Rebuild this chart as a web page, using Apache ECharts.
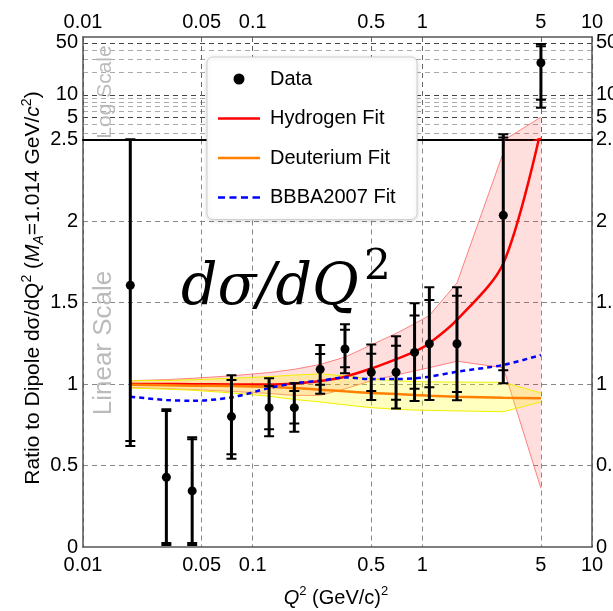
<!DOCTYPE html>
<html><head><meta charset="utf-8">
<script src="https://cdn.jsdelivr.net/npm/echarts@6/dist/echarts.min.js"></script>
<style>html,body{margin:0;padding:0;background:#fff}#c{width:613px;height:611px}</style>
</head><body><div id="c"></div>
<script>
// ---- data ----
const q2      = [0.019, 0.031, 0.044, 0.075, 0.125, 0.176, 0.25, 0.35, 0.5, 0.7, 0.9, 1.1, 1.6, 3.0, 5.0];
const ratio   = [1.606, 0.428, 0.344, 0.800, 0.855, 0.855, 1.090, 1.215, 1.072, 1.072, 1.194, 1.247, 1.247, 2.035, 27.0];
const statHi  = [2.50, 0.834, 0.661, 1.025, 0.988, 0.957, 1.184, 1.333, 1.186, 1.235, 1.421, 1.515, 1.542, 2.67, 45.0];
const totHi   = [2.50, 0.845, 0.673, 1.053, 1.035, 1.004, 1.239, 1.366, 1.243, 1.293, 1.495, 1.593, 1.593, 2.95, 48.4];
const statLo  = [0.650, 0.025, 0.025, 0.569, 0.722, 0.757, 0.996, 1.102, 0.957, 0.904, 0.971, 0.980, 0.951, 1.084, 8.6];
const totLo   = [0.620, 0.012, 0.012, 0.542, 0.679, 0.707, 0.940, 1.066, 0.902, 0.849, 0.896, 0.902, 0.900, 1.004, 6.7];

const hydroFit = [1.000, 1.000, 0.999, 0.997, 0.997, 1.003, 1.018, 1.045, 1.095, 1.152, 1.198, 1.250, 1.393, 1.740, 2.56];
const hydroHi  = [1.020, 1.027, 1.035, 1.050, 1.070, 1.090, 1.120, 1.165, 1.240, 1.310, 1.370, 1.420, 1.620, 2.420, 5.0];
const hydroLo  = [0.978, 0.972, 0.966, 0.955, 0.942, 0.930, 0.930, 0.970, 1.020, 1.055, 1.080, 1.100, 1.140, 1.100, 0.36];
const deutFit  = [0.995, 0.993, 0.990, 0.988, 0.983, 0.975, 0.965, 0.955, 0.945, 0.938, 0.933, 0.928, 0.922, 0.915, 0.912];
const deutHi   = [1.020, 1.022, 1.026, 1.035, 1.045, 1.055, 1.062, 1.050, 1.030, 1.020, 1.015, 1.013, 1.012, 1.010, 0.945];
const deutLo   = [0.975, 0.968, 0.962, 0.945, 0.925, 0.905, 0.890, 0.872, 0.855, 0.845, 0.840, 0.838, 0.835, 0.830, 0.890];
const bbbaFit  = [0.922, 0.902, 0.897, 0.918, 0.975, 1.005, 1.020, 1.040, 1.030, 1.030, 1.035, 1.045, 1.075, 1.117, 1.178];

const xTicks      = [0.01, 0.05, 0.1, 0.5, 1, 5, 10];
const logTicks    = [5, 10, 50];
const logMinor    = [3, 4, 6, 7, 8, 9, 20, 30, 40];
const seriesNames = ['Data', 'Hydrogen Fit', 'Deuterium Fit', 'BBBA2007 Fit'];

// ---- chart ----
const FONT = 'Liberation Sans';
const chart = echarts.init(document.getElementById('c'), null, {renderer: 'canvas'});

const pairs = arr => q2.map((x, i) => [x, arr[i]]);
const errData = q2.map((x, i) => [x, totLo[i], statLo[i], statHi[i], totHi[i]]);

function errorBar(params, api) {
  const x = api.value(0);
  const pts = [1, 2, 3, 4].map(d => api.coord([x, api.value(d)]));
  const px = pts[0][0];
  const cap = 5;
  const children = [{
    type: 'line',
    shape: {x1: px, y1: pts[0][1], x2: px, y2: pts[3][1]},
    style: {stroke: '#000', lineWidth: 3}
  }];
  pts.forEach(p => children.push({
    type: 'line',
    shape: {x1: px - cap, y1: p[1], x2: px + cap, y2: p[1]},
    style: {stroke: '#000', lineWidth: 2}
  }));
  return {type: 'group', children};
}

function bandRenderer(lo, hi, fill, stroke) {
  return function (params, api) {
    if (params.dataIndex !== 0) return null;
    const top = q2.map((x, i) => api.coord([x, hi[i]]));
    const bot = q2.map((x, i) => api.coord([x, lo[i]])).reverse();
    const cs = params.coordSys;
    return {
      type: 'group',
      clipPath: {type: 'rect', shape: {x: cs.x, y: cs.y, width: cs.width, height: cs.height}},
      children: [
        {type: 'polygon', shape: {points: top.concat(bot)}, style: {fill: fill, stroke: 'none'}},
        {type: 'polyline', shape: {points: top}, style: {fill: 'none', stroke: stroke, lineWidth: 1}},
        {type: 'polyline', shape: {points: bot}, style: {fill: 'none', stroke: stroke, lineWidth: 1}}
      ]
    };
  };
}

const frame = {show: true, lineStyle: {color: '#555', width: 1.5}};
const labelStyle = {fontFamily: FONT, fontSize: 20, color: '#000'};
const dashed = c => ({show: true, lineStyle: {color: c, type: [5, 4], width: 1}});

const xAxisBase = (grid, pos, showLabel, split, margin) => ({
  gridIndex: grid, type: 'log', logBase: 10, min: 0.01, max: 10, position: pos,
  axisLine: frame,
  axisTick: {show: false, customValues: xTicks},
  axisLabel: Object.assign({show: showLabel, margin: margin, customValues: xTicks,
    formatter: v => String(v)}, labelStyle),
  splitLine: split
});

const lineIcon = 'path://M0,0h42v2.6h-42z';
const dashIcon = 'path://M0,0h7v2.6h-7zM11.5,0h7v2.6h-7zM23,0h7v2.6h-7zM34.5,0h7.5v2.6h-7.5z';

const option = {
  backgroundColor: '#fff',
  animation: false,
  grid: [
    {left: 83, width: 509, top: 37, height: 102.5, containLabel: false, outerBoundsMode: 'none'},
    {left: 83, width: 509, top: 139.5, height: 407.5, containLabel: false, outerBoundsMode: 'none'}
  ],
  xAxis: [
    xAxisBase(0, 'top', true, dashed('#666'), 5),
    xAxisBase(1, 'bottom', true, dashed('#888'), 8),
    {gridIndex: 0, type: 'log', min: 0.01, max: 10, position: 'bottom',
     axisLine: {show: true, lineStyle: {color: '#000', width: 2}},
     axisTick: {show: false}, axisLabel: {show: false}, splitLine: {show: false}}
  ],
  yAxis: [
    {gridIndex: 0, type: 'log', logBase: 10, min: 2.5, max: 60, position: 'left',
     axisLine: frame, axisTick: {show: false, customValues: logTicks},
     axisLabel: Object.assign({margin: 5, customValues: logTicks, formatter: v => String(v)}, labelStyle),
     splitLine: dashed('#444')},
    {gridIndex: 0, type: 'log', logBase: 10, min: 2.5, max: 60, position: 'right',
     axisLine: frame, axisTick: {show: false, customValues: logTicks},
     axisLabel: Object.assign({margin: 4, customValues: logTicks, formatter: v => String(v)}, labelStyle),
     splitLine: {show: false}},
    {gridIndex: 0, type: 'log', logBase: 10, min: 2.5, max: 60, position: 'left',
     axisLine: {show: false}, axisTick: {show: false, customValues: logMinor},
     axisLabel: {show: false, customValues: logMinor},
     splitLine: dashed('#aaa')},
    {gridIndex: 1, type: 'value', min: 0, max: 2.5, interval: 0.5, position: 'left',
     axisLine: frame, axisTick: {show: false},
     axisLabel: Object.assign({margin: 5}, labelStyle),
     splitLine: {show: true, showMinLine: false, showMaxLine: false, lineStyle: {color: '#888', type: [5, 4], width: 1}}},
    {gridIndex: 1, type: 'value', min: 0, max: 2.5, interval: 0.5, position: 'right',
     axisLine: frame, axisTick: {show: false},
     axisLabel: Object.assign({margin: 4}, labelStyle),
     splitLine: {show: false}}
  ],
  legend: {
    orient: 'vertical', left: 207, top: 57,
    padding: [12, 11, 12, 11],
    itemWidth: 42, itemHeight: 11, itemGap: 19.5,
    backgroundColor: '#fff', borderColor: '#d0d0d0', borderWidth: 1, borderRadius: 6,
    shadowBlur: 4, shadowColor: 'rgba(0,0,0,0.15)', shadowOffsetY: 1,
    textStyle: {fontFamily: FONT, fontSize: 20, color: '#000', lineHeight: 20, width: 136, padding: [0, 0, 0, 5]},
    data: [
      {name: seriesNames[0], icon: 'circle'},
      {name: seriesNames[1], icon: lineIcon},
      {name: seriesNames[2], icon: lineIcon},
      {name: seriesNames[3], icon: dashIcon}
    ]
  },
  series: [
    {type: 'custom', name: 'hband', xAxisIndex: 1, yAxisIndex: 3, clip: true, silent: true, z: 1,
     renderItem: bandRenderer(hydroLo, hydroHi, 'rgba(255,0,0,0.13)', '#ff8080'),
     data: q2.map((x, i) => [x, hydroLo[i], hydroHi[i]])},
    {type: 'custom', name: 'dband', xAxisIndex: 1, yAxisIndex: 3, clip: true, silent: true, z: 1,
     renderItem: bandRenderer(deutLo, deutHi, 'rgba(255,255,0,0.25)', '#f0f000'),
     data: q2.map((x, i) => [x, deutLo[i], deutHi[i]])},
    {type: 'custom', name: 'hband2', xAxisIndex: 0, yAxisIndex: 0, clip: true, silent: true, z: 1,
     renderItem: bandRenderer(hydroLo, hydroHi, 'rgba(255,0,0,0.13)', '#ff8080'),
     data: q2.map((x, i) => [x, hydroLo[i], hydroHi[i]])},

    {type: 'line', name: seriesNames[1], xAxisIndex: 1, yAxisIndex: 3, data: pairs(hydroFit),
     smooth: 0.3, symbol: 'none', clip: true, z: 3, lineStyle: {color: '#ff0000', width: 2.5}, itemStyle: {color: '#ff0000'}},
    {type: 'line', name: seriesNames[1], xAxisIndex: 0, yAxisIndex: 0, data: pairs(hydroFit),
     smooth: 0.3, symbol: 'none', clip: true, z: 3, lineStyle: {color: '#ff0000', width: 2.5}, itemStyle: {color: '#ff0000'}},
    {type: 'line', name: seriesNames[2], xAxisIndex: 1, yAxisIndex: 3, data: pairs(deutFit),
     smooth: 0.3, symbol: 'none', clip: true, z: 3, lineStyle: {color: '#ff8000', width: 2.5}, itemStyle: {color: '#ff8000'}},
    {type: 'line', name: seriesNames[3], xAxisIndex: 1, yAxisIndex: 3, data: pairs(bbbaFit),
     smooth: 0.3, symbol: 'none', clip: true, z: 3, lineStyle: {color: '#0000ff', width: 2.5, type: [5, 4]}, itemStyle: {color: '#0000ff'}},

    {type: 'custom', name: 'err', xAxisIndex: 1, yAxisIndex: 3, clip: true, z: 4,
     renderItem: errorBar, encode: {x: 0, y: [1, 2, 3, 4]}, data: errData},
    {type: 'custom', name: 'err2', xAxisIndex: 0, yAxisIndex: 0, clip: true, z: 4,
     renderItem: errorBar, encode: {x: 0, y: [1, 2, 3, 4]}, data: errData},
    {type: 'scatter', name: seriesNames[0], xAxisIndex: 1, yAxisIndex: 3, data: pairs(ratio),
     symbol: 'circle', symbolSize: 9, clip: true, z: 5, itemStyle: {color: '#000', opacity: 1}},
    {type: 'scatter', name: seriesNames[0], xAxisIndex: 0, yAxisIndex: 0, data: pairs(ratio),
     symbol: 'circle', symbolSize: 9, clip: true, z: 5, itemStyle: {color: '#000', opacity: 1}}
  ],
  graphic: [
    {type: 'text', x: 33, y: 288, rotation: Math.PI / 2, z: 10,
     style: {
       text: '{n|Ratio to Dipole d\u03c3/dQ}{sup|2}{n| (}{i|M}{sub|A}{n|=1.014 GeV/}{i|c}{sup|2}{n|)}',
       align: 'center', verticalAlign: 'middle', textAlign: 'center', textVerticalAlign: 'middle',
       fill: '#000',
       rich: {
         n: {fontFamily: FONT, fontSize: 21, lineHeight: 26},
         i: {fontFamily: FONT, fontSize: 21, fontStyle: 'italic', lineHeight: 26},
         sup: {fontFamily: FONT, fontSize: 14, lineHeight: 14, verticalAlign: 'top'},
         sub: {fontFamily: FONT, fontSize: 14, fontStyle: 'italic', lineHeight: 14, verticalAlign: 'bottom'}
       }
     }},
    {type: 'text', x: 336, y: 598, z: 10,
     style: {
       text: '{i|Q}{sup|2}{n| (GeV/c)}{sup|2}',
       align: 'center', verticalAlign: 'middle', textAlign: 'center', textVerticalAlign: 'middle',
       fill: '#000',
       rich: {
         n: {fontFamily: FONT, fontSize: 20, lineHeight: 26},
         i: {fontFamily: FONT, fontSize: 20, fontStyle: 'italic', lineHeight: 26},
         sup: {fontFamily: FONT, fontSize: 13, lineHeight: 14, verticalAlign: 'top'}
       }
     }},
    {type: 'text', x: 181, y: 289, z: 10,
     style: {text: 'd\u03c3/dQ', font: 'italic 57px "DejaVu Serif"', fill: '#000',
       align: 'left', verticalAlign: 'middle', textAlign: 'left', textVerticalAlign: 'middle'}},
    {type: 'text', x: 364, y: 268, z: 10,
     style: {text: '2', font: '42px "DejaVu Serif"', fill: '#000',
       align: 'left', verticalAlign: 'middle', textAlign: 'left', textVerticalAlign: 'middle'}},
    {type: 'text', x: 105, y: 92, rotation: Math.PI / 2, z: 10,
     style: {text: 'Log Scale', font: '21px "Liberation Sans"', fill: '#bbbbbb',
       align: 'center', verticalAlign: 'middle', textAlign: 'center', textVerticalAlign: 'middle'}},
    {type: 'text', x: 104, y: 343, rotation: Math.PI / 2, z: 10,
     style: {text: 'Linear Scale', font: '26px "Liberation Sans"', fill: '#bbbbbb',
       align: 'center', verticalAlign: 'middle', textAlign: 'center', textVerticalAlign: 'middle'}}
  ]
};
chart.setOption(option);
</script>
</body></html>
